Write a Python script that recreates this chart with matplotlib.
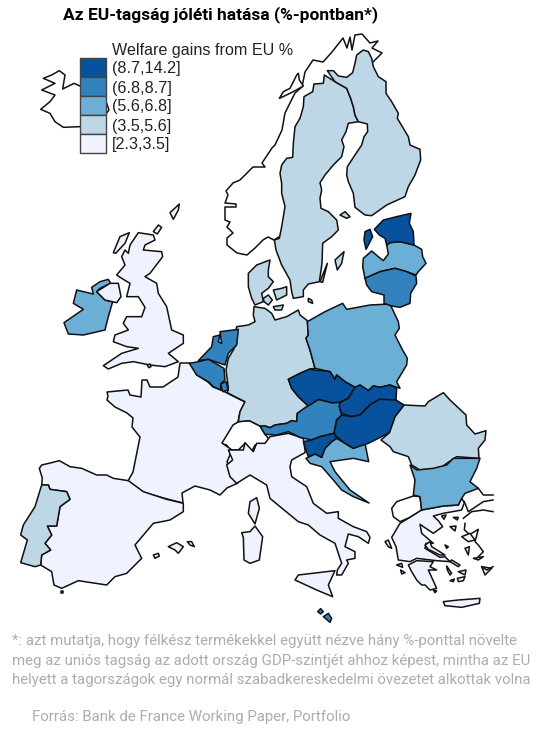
import matplotlib
matplotlib.use("Agg")
import matplotlib.pyplot as plt
from matplotlib.patches import Polygon, Rectangle


def traced(points, left, top):
    return [(x / 3 + left, y / 3 + top) for x, y in points]


title = "Az EU-tagság jóléti hatása (%-pontban*)"
legend_title = "Welfare gains from EU %"
class_labels = ["(8.7,14.2]", "(6.8,8.7]", "(5.6,6.8]", "(3.5,5.6]", "[2.3,3.5]"]
class_colors = ["#08519c", "#3182bd", "#6baed6", "#bdd7e7", "#eff3ff"]
note_lines = [
    "*: azt mutatja, hogy félkész termékekkel együtt nézve hány %-ponttal növelte",
    "meg az uniós tagság az adott ország GDP-szintjét ahhoz képest, mintha az EU",
    "helyett a tagországok egy normál szabadkereskedelmi övezetet alkottak volna",
]
source = "Forrás: Bank de France Working Paper, Portfolio"

# outside the EU, white
iceland = traced([(130,235),(155,225),(178,212),(195,225),(188,267),(222,250),(240,258),(320,310),(327,330),(315,345),(240,380),(190,382),(165,365),(150,340),(122,328),(150,305),(165,285),(125,270),(165,250)], 0, 0)
norway = [(274,240),(268,237),(263,240),(255,248),(247,255),(237,253),(227,245),(227,238),(233,233),(227,227),(230,222),(225,220),(225,207),(236,207),(236,204),(225,203),(228,195),(226,191),(233,183),(240,180),(253,167),(265,167),(262,163),(272,148),(275,145),(282,130),(285,113),(295,93),(302,87),(305,72),(313,60),(323,62),(332,52),(343,38),(347,48),(350,37),(352,50),(355,35),(362,34),(370,43),(378,41),(372,48),(382,53),(373,62),(360,60),(340,110),(300,170),(290,230)]
lofoten = traced([(118,145),(130,125),(150,115),(170,75),(175,70),(178,90),(190,108),(160,125),(125,142)], 240, 50)
switzerland = traced([(5,432),(10,405),(35,375),(55,365),(88,362),(120,378),(135,403),(150,420),(130,435),(105,435),(95,455),(75,430),(55,450),(30,450),(20,435)], 220, 300)
albania_area = traced([(605,240),(570,262),(540,275),(520,260),(515,235),(530,215),(580,198),(600,200)], 220, 430)
turkey_lines = [
    traced([(775,175),(790,195),(819,195)], 220, 430),
    traced([(733,215),(745,245),(790,215),(819,210)], 220, 430),
    traced([(730,265),(755,245),(790,240),(819,245)], 220, 430),
    traced([(735,280),(733,300),(745,310)], 220, 430),
    traced([(755,310),(775,298),(765,335),(775,345),(790,365),(775,380)], 220, 430),
    traced([(785,410),(800,420),(819,410)], 220, 430),
]

# [2.3,3.5]
britain = traced([(265,128),(310,135),(315,150),(285,165),(280,180),(335,185),(338,200),(300,250),(285,260),(320,280),(325,310),(350,350),(365,420),(400,435),(400,460),(355,490),(385,515),(345,530),(300,525),(250,515),(215,520),(175,537),(160,527),(215,490),(265,475),(230,470),(190,455),(195,435),(235,420),(220,400),(230,380),(275,380),(285,352),(265,320),(230,320),(240,280),(215,265),(200,255),(225,225),(215,200),(225,180),(235,190),(240,165)], 50, 190)
hebrides = traced([(190,188),(210,140),(238,128),(225,160),(197,190)], 50, 190)
shetland = traced([(360,68),(388,42),(385,60),(370,88)], 50, 190)
orkney = traced([(310,125),(325,105),(335,112),(322,132)], 50, 190)
wight = traced([(292,525),(300,522),(303,530),(296,533)], 50, 190)
n_ireland = traced([(140,305),(180,280),(205,280),(213,320),(200,338),(165,330)], 50, 190)
france = [(180,363),(190,363),(197,375),(208,382),(213,387),(221,390),(227,393),(235,397),(245,402),(240,412),(238,422),(233,425),(222,443),(232,450),(227,462),(232,475),(238,483),(227,488),(220,495),(210,490),(195,486),(182,493),(183,503),(167,499),(153,495),(143,492),(128,481),(133,472),(138,447),(140,437),(132,427),(133,418),(127,413),(115,407),(107,400),(108,396),(107,392),(128,390),(130,395),(141,397),(142,380),(147,380),(150,387),(163,387),(178,377)]
corsica = traced([(110,203),(118,235),(105,282),(85,250),(90,215)], 220, 430)
sardinia = traced([(105,288),(128,320),(118,390),(90,400),(72,390),(70,322),(65,308),(90,305)], 220, 430)
sicily = traced([(225,450),(235,435),(260,432),(345,422),(325,465),(338,500),(290,480)], 220, 430)
italy = traced([(25,60),(70,60),(75,38),(100,65),(110,40),(135,40),(150,20),(205,10),(250,25),(255,60),(255,68),(215,90),(210,110),(215,140),(260,170),(280,220),(320,250),(355,245),(355,265),(400,290),(440,305),(450,322),(445,340),(415,320),(385,312),(375,350),(405,365),(405,385),(380,390),(385,400),(365,435),(350,435),(352,420),(365,400),(345,340),(300,315),(265,285),(235,275),(180,230),(150,205),(140,165),(90,135),(50,160),(30,140),(20,105),(38,90)], 220, 430)
spain = traced([(118,205),(125,195),(155,188),(178,182),(210,200),(245,205),(290,225),(320,225),(340,235),(385,242),(430,275),(460,285),(500,298),(550,310),(550,335),(510,360),(460,370),(405,435),(425,475),(380,520),(345,530),(320,555),(235,542),(185,565),(162,555),(155,515),(122,495),(125,465),(152,450),(135,430),(155,405),(142,378),(170,378),(180,320),(210,298),(200,275),(150,268),(145,255),(125,255),(127,235)], 0, 400)
mallorca = traced([(505,440),(530,428),(550,440),(535,460),(525,450)], 0, 400)
menorca = traced([(562,425),(575,425),(583,440),(570,435)], 0, 400)
ibiza = traced([(460,465),(475,460),(478,468),(465,475)], 0, 400)
gibraltar_dot = traced([(184,574),(190,574),(190,580),(184,580)], 0, 400)
greece = traced([(605,240),(670,228),(715,225),(725,205),(733,218),(725,240),(670,250),(640,258),(655,272),(668,290),(640,310),(600,283),(605,310),(640,340),(618,340),(615,355),(660,382),(675,380),(690,395),(650,392),(590,385),(570,395),(535,390),(528,350),(515,322),(540,280),(570,262)], 220, 430)
peloponnese = traced([(565,405),(590,392),(640,395),(630,410),(650,420),(625,420),(650,475),(630,480),(615,465),(605,465),(590,450),(575,425)], 220, 430)
crete = traced([(670,515),(715,510),(780,505),(778,520),(725,532),(675,527)], 220, 430)
evia = traced([(615,345),(630,335),(635,350),(675,375),(660,375),(625,358)], 220, 430)
greek_islands = [traced(p, 220, 430) for p in [
    [(665,258),(678,255),(672,268)], [(700,262),(715,262),(712,270)], [(690,290),(708,288),(705,303)],
    [(675,345),(685,350),(680,355)], [(530,405),(545,400),(548,412)], [(542,420),(555,428),(545,432)],
    [(495,335),(505,330),(515,355),(505,350)], [(695,390),(720,405),(715,410),(690,395)],
    [(680,408),(695,430),(690,435),(682,420)], [(715,425),(738,420),(735,435)],
    [(712,445),(735,440),(730,452),(715,455)], [(690,452),(703,447),(700,455)],
    [(640,480),(650,483),(645,488)], [(725,320),(750,310),(765,330),(745,335)],
    [(735,355),(748,350),(745,375)], [(760,385),(790,380),(775,390)], [(785,410),(815,415),(795,435)],
]]

# (3.5,5.6]
germany = traced([(50,80),(85,75),(105,65),(100,45),(102,20),(135,25),(155,40),(165,60),(200,50),(235,30),(240,45),(262,62),(265,105),(258,115),(270,150),(285,205),(270,207),(240,220),(205,238),(215,265),(235,290),(265,318),(232,340),(230,365),(215,362),(200,370),(165,375),(150,383),(135,378),(120,378),(88,362),(55,365),(60,335),(75,305),(45,290),(22,278),(25,265),(22,240),(18,210),(25,175),(40,150),(50,130),(45,110)], 220, 300)
jutland = traced([(25,670),(50,645),(90,630),(85,660),(85,680),(100,695),(85,715),(65,730),(70,755),(45,765),(35,745),(25,710)], 240, 50)
fyn = traced([(70,745),(85,735),(97,750),(85,765),(72,755)], 240, 50)
zealand = traced([(100,720),(125,715),(140,710),(140,735),(120,745),(110,750)], 240, 50)
lolland = traced([(100,770),(130,765),(125,780),(105,780)], 240, 50)
bornholm = traced([(205,745),(215,750),(218,760),(205,755)], 240, 50)
sweden = traced([(253,75),(285,95),(320,115),(332,145),(340,170),(345,195),(355,215),(325,220),(318,245),(305,270),(312,290),(305,320),(280,345),(255,375),(240,398),(245,420),(240,445),(243,475),(265,485),(290,510),(295,540),(275,560),(248,580),(246,640),(238,695),(205,702),(190,720),(190,740),(160,745),(155,725),(150,690),(125,645),(108,600),(103,570),(118,565),(125,530),(130,500),(135,470),(125,430),(125,400),(120,370),(125,345),(140,325),(158,322),(160,280),(165,230),(180,205),(190,170),(192,140),(218,125),(222,102),(250,100)], 240, 50)
gotland = traced([(285,630),(312,605),(305,640),(292,660)], 240, 50)
oland = traced([(240,695),(262,640),(248,697)], 240, 50)
finland = traced([(262,62),(280,62),(295,78),(320,82),(338,68),(345,40),(350,15),(370,0),(385,5),(395,25),(400,50),(415,80),(438,95),(438,130),(455,155),(475,190),(472,205),(490,235),(505,260),(510,285),(540,298),(542,330),(525,375),(505,410),(495,440),(440,465),(395,497),(375,495),(345,472),(340,430),(325,395),(320,375),(322,350),(345,315),(365,285),(372,260),(383,245),(382,222),(355,215),(345,195),(340,170),(332,145),(320,115),(285,95)], 240, 50)
aland = traced([(300,495),(315,485),(330,500),(320,505)], 240, 50)
romania = traced([(483,420),(508,398),(525,350),(552,315),(615,318),(625,305),(670,278),(690,300),(738,345),(740,375),(765,402),(798,392),(795,420),(775,445),(777,475),(710,470),(680,490),(660,505),(600,510),(575,495),(565,470),(520,455),(510,440)], 220, 300)
portugal = traced([(125,255),(145,255),(150,268),(200,275),(210,298),(180,320),(170,378),(142,378),(155,405),(135,430),(152,450),(125,465),(122,495),(105,500),(62,488),(82,420),(62,405),(70,375),(105,320)], 0, 400)

# (5.6,6.8]
ireland = traced([(125,292),(150,275),(175,268),(182,280),(150,295),(140,305),(165,330),(188,335),(175,380),(165,420),(100,435),(55,432),(42,398),(100,358),(70,340),(80,300),(130,312)], 50, 190)
poland = traced([(262,65),(315,35),(368,10),(380,28),(450,15),(510,12),(535,65),(538,85),(525,105),(545,145),(562,175),(560,195),(530,245),(540,265),(510,255),(480,262),(460,258),(445,272),(420,255),(405,262),(375,245),(350,225),(345,238),(330,215),(285,205),(270,150),(258,115),(265,105)], 220, 300)
latvia = traced([(368,650),(370,625),(395,603),(415,620),(430,632),(445,612),(440,585),(450,578),(480,575),(522,585),(545,598),(548,620),(558,640),(535,665),(528,675),(500,665),(465,655),(420,665),(375,685)], 240, 50)
croatia = traced([(258,475),(285,462),(305,472),(315,445),(335,425),(350,415),(375,430),(400,445),(435,430),(446,485),(400,475),(330,485),(345,515),(390,570),(447,609),(400,590),(365,570),(340,540),(305,500),(270,490)], 220, 300)
bulgaria = traced([(570,105),(590,120),(640,115),(680,105),(700,85),(780,85),(770,115),(750,155),(775,175),(735,190),(725,205),(715,225),(670,228),(605,240),(600,200),(580,195),(585,150)], 220, 430)

# (6.8,8.7]
lithuania = traced([(375,685),(420,665),(465,655),(500,665),(528,678),(530,700),(512,730),(510,760),(480,772),(455,768),(432,760),(432,735),(395,725),(380,705)], 240, 50)
netherlands = traced([(445,512),(485,470),(490,440),(510,435),(505,455),(515,460),(510,425),(565,418),(560,465),(535,490),(525,525),(510,520),(475,508)], 50, 190)
belgium = traced([(418,520),(445,515),(475,508),(505,525),(522,535),(525,570),(512,582),(512,600),(490,590),(475,575),(440,555)], 50, 190)
luxembourg = traced([(512,582),(528,575),(535,600),(518,605)], 50, 190)
austria = traced([(120,378),(135,378),(150,383),(165,375),(200,370),(215,362),(230,365),(232,340),(260,320),(295,298),(335,308),(360,307),(358,320),(365,345),(350,360),(342,400),(300,410),(275,420),(240,412),(205,395),(170,405),(135,403)], 220, 300)
malta = traced([(293,545),(302,536),(310,545),(302,552)], 220, 430)
gozo = traced([(310,560),(325,550),(335,565),(330,577)], 220, 430)

# (8.7,14.2]
estonia = traced([(403,538),(430,510),(470,500),(513,490),(508,520),(520,545),(522,585),(480,575),(450,578),(440,585),(435,565),(418,555)], 240, 50)
saaremaa = traced([(375,545),(390,538),(398,560),(385,585),(378,598),(372,570)], 240, 50)
czechia = traced([(205,238),(240,220),(270,207),(285,210),(330,215),(345,238),(350,225),(375,245),(405,262),(385,295),(360,307),(335,308),(295,298),(265,318),(235,290),(215,265)], 220, 300)
slovakia = traced([(405,262),(420,255),(445,272),(460,258),(480,262),(510,255),(530,265),(528,300),(478,298),(450,315),(420,345),(395,350),(365,340),(358,320),(360,307),(385,295)], 220, 300)
hungary = traced([(365,345),(395,350),(420,345),(450,315),(478,298),(528,300),(552,315),(525,350),(508,398),(475,415),(445,430),(400,445),(375,430),(350,410),(342,400),(350,360)], 220, 300)
slovenia = traced([(250,425),(275,420),(300,410),(342,400),(350,415),(335,425),(315,445),(305,472),(285,462),(265,470),(258,450)], 220, 300)

outside = [iceland, norway, lofoten, switzerland, albania_area]
by_class = {
    4: [britain, hebrides, shetland, orkney, wight, france, corsica, sardinia, sicily, italy,
        spain, mallorca, menorca, ibiza, gibraltar_dot, greece, peloponnese, crete, evia] + greek_islands,
    3: [germany, jutland, fyn, zealand, lolland, bornholm, sweden, gotland, oland, finland, aland,
        romania, portugal],
    2: [ireland, poland, latvia, croatia, bulgaria],
    1: [lithuania, netherlands, belgium, luxembourg, austria, malta, gozo],
    0: [estonia, saaremaa, czechia, slovakia, hungary, slovenia],
}

fig = plt.figure(figsize=(5.38, 7.32), dpi=100)
ax = fig.add_axes([0, 0, 1, 1])
ax.set_xlim(0, 538)
ax.set_ylim(732, 0)
ax.axis("off")

for shape in outside:
    ax.add_patch(Polygon(shape, closed=True, facecolor="white", edgecolor="#111111", linewidth=1.1, joinstyle="round"))
for line in turkey_lines:
    ax.plot([p[0] for p in line], [p[1] for p in line], color="#111111", linewidth=1.1)

for cls in [4, 3, 2, 1, 0]:
    for shape in by_class[cls]:
        ax.add_patch(Polygon(shape, closed=True, facecolor=class_colors[cls], edgecolor="#111111", linewidth=1.1, joinstyle="round"))
# Northern Ireland sits in the notch of Ireland
ax.add_patch(Polygon(n_ireland, closed=True, facecolor=class_colors[4], edgecolor="#111111", linewidth=1.1, joinstyle="round"))

# legend sits on top of Iceland
ax.text(112, 51, legend_title, fontsize=11.6, family="Liberation Sans", color="#222222", ha="left", va="center")
for i, label in enumerate(class_labels):
    ax.add_patch(Rectangle((80, 58 + 19 * i), 25.5, 19, facecolor=class_colors[i], edgecolor="#444444", linewidth=1.0, zorder=5))
    ax.text(112, 69 + 19 * i, label, fontsize=11.6, family="Liberation Sans", color="#222222", ha="left", va="center", zorder=5)

ax.text(220.5, 15, title, fontsize=12.5, family="Roboto", fontweight="bold", color="black", ha="center", va="center")
for y, line in zip([641, 661, 680], note_lines):
    ax.text(12, y, line, fontsize=10.83, family="Roboto", color="#adadad", ha="left", va="center")
ax.text(32, 717, source, fontsize=10.85, family="Roboto", color="#adadad", ha="left", va="center")

fig.savefig("out.png", dpi=100)
